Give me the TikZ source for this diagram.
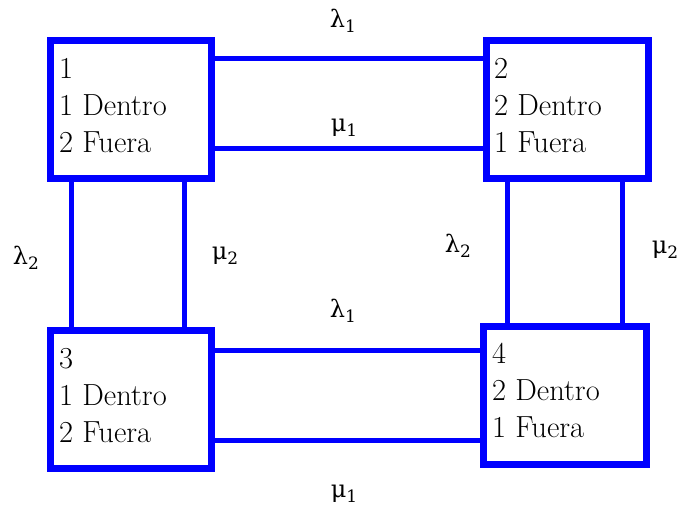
\documentclass[tikz,border=0pt]{standalone}
\usepackage{fontspec}
\newfontfamily\grk{DejaVu Serif}
\newcommand{\gsym}[2]{{\grk\fontsize{24}{24}\selectfont #1\raisebox{-5pt}{\fontsize{17}{17}\selectfont #2}}}
\begin{document}
\begin{tikzpicture}[x=1pt,y=-1pt,
  statebox/.style={draw=blue,line width=7pt,rectangle,inner sep=0pt,fill=white},
  conn/.style={draw=blue,line width=4.5pt},
  boxtext/.style={anchor=north west,inner sep=0pt,align=left,font=\fontsize{30.5}{37}\selectfont},
  rate/.style={inner sep=0pt,anchor=center}]
\useasboundingbox (0,0) rectangle (681,510);
% boxes
\node[statebox,minimum width=161pt,minimum height=138pt] (b1) at (131,109.5) {};
\node[statebox,minimum width=162pt,minimum height=138pt] (b2) at (567.5,109.5) {};
\node[statebox,minimum width=161pt,minimum height=138pt] (b3) at (131,399.5) {};
\node[statebox,minimum width=163pt,minimum height=138pt] (b4) at (565,395.5) {};
% connectors
\draw[conn] ([yshift=-21.5pt]b1.north east) -- ([yshift=-21.5pt]b1.north east -| b2.west);
\draw[conn] ([yshift=-111.5pt]b1.north east) -- ([yshift=-111.5pt]b1.north east -| b2.west);
\draw[conn] ([yshift=-23.5pt]b3.north east) -- ([yshift=-23.5pt]b3.north east -| b4.west);
\draw[conn] ([yshift=-113.5pt]b3.north east) -- ([yshift=-113.5pt]b3.north east -| b4.west);
\draw[conn] ([xshift=24.5pt]b1.south west) -- ([xshift=24.5pt]b1.south west |- b3.north);
\draw[conn] ([xshift=137.5pt]b1.south west) -- ([xshift=137.5pt]b1.south west |- b3.north);
\draw[conn] ([xshift=24.5pt]b2.south west) -- ([xshift=24.5pt]b2.south west |- b4.north);
\draw[conn] ([xshift=139.5pt]b2.south west) -- ([xshift=139.5pt]b2.south west |- b4.north);
% box texts
\node[boxtext] (t1) at (59,58) {1\\1 Dentro\\2 Fuera};
\node[boxtext] (t2) at (494,58) {2\\2 Dentro\\1 Fuera};
\node[boxtext] (t3) at (59,348) {3\\1 Dentro\\2 Fuera};
\node[boxtext] (t4) at (492,343) {4\\2 Dentro\\1 Fuera};
% rates
\node[rate] (l1a) at (343,21) {\gsym{λ}{1}};
\node[rate] (m1a) at (344,128) {\gsym{μ}{1}};
\node[rate] (l2a) at (26,258) {\gsym{λ}{2}};
\node[rate] (m2a) at (225,256) {\gsym{μ}{2}};
\node[rate] (l2b) at (458,246) {\gsym{λ}{2}};
\node[rate] (m2b) at (665,250) {\gsym{μ}{2}};
\node[rate] (l1b) at (343,311) {\gsym{λ}{1}};
\node[rate] (m1b) at (344,494) {\gsym{μ}{1}};
\end{tikzpicture}
\end{document}
